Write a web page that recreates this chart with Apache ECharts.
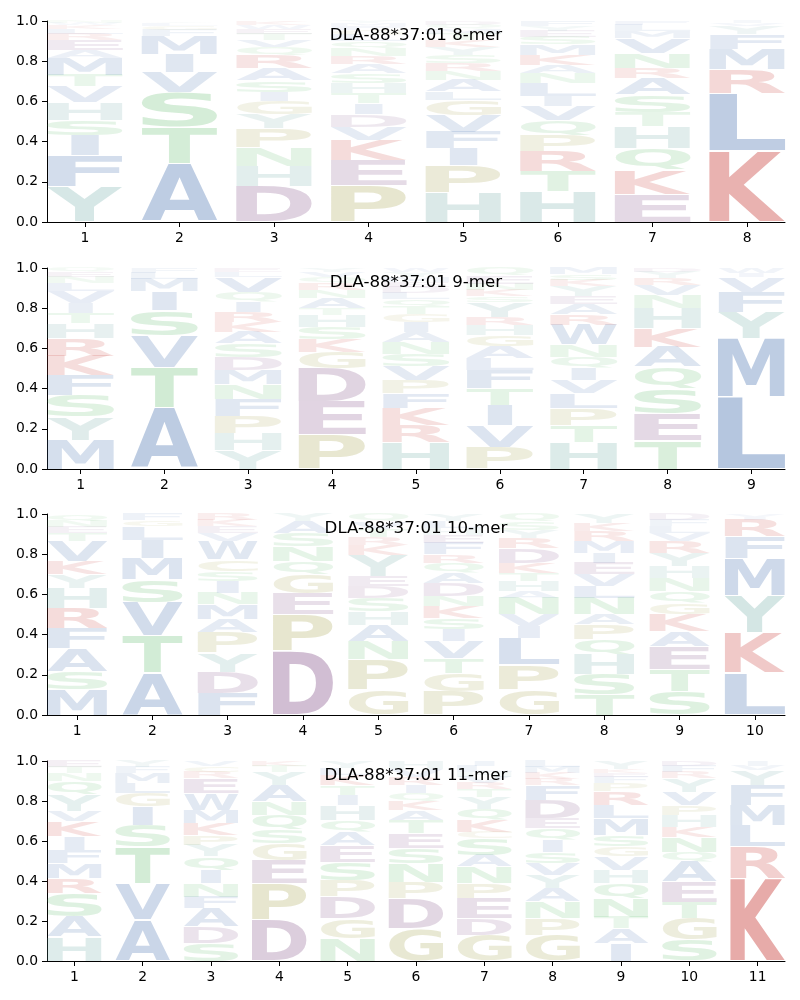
<!DOCTYPE html>
<html><head><meta charset="utf-8">
<script src="https://cdn.jsdelivr.net/npm/echarts@6/dist/echarts.min.js"></script>
<style>html,body{margin:0;padding:0;background:#fff}#c{width:800px;height:1000px}</style>
</head><body><div id="c"></div>
<script>
// ---------------- DATA ----------------
const titles = ["DLA-88*37:01 8-mer", "DLA-88*37:01 9-mer", "DLA-88*37:01 10-mer", "DLA-88*37:01 11-mer"];
const yTicks = [0, 0.2, 0.4, 0.6, 0.8, 1.0];

// letters listed bottom -> top for each position, with matching heights
const mer8Letters = ["YFISHVTMAERLKWN", "ATSVIMFGLY", "DHNPYGISARQVTEWK", "PEKVDITHSARNQLGFMY",
  "HPIFVGLANRSYKTMQD", "HTRPQVILNAKMSEYF", "EKQHTSARNVMLF", "KLRMFYVI"];
const mer8Heights = [
  [0.176,0.154,0.10,0.078,0.088,0.078,0.058,0.083,0.04,0.05,0.03,0.025,0.02,0.01,0.01],
  [0.292,0.18,0.171,0.1,0.09,0.093,0.03,0.02,0.015,0.009],
  [0.179,0.1,0.09,0.096,0.07,0.066,0.046,0.058,0.058,0.066,0.04,0.035,0.03,0.025,0.02,0.021],
  [0.184,0.124,0.1,0.066,0.061,0.055,0.05,0.05,0.05,0.045,0.04,0.04,0.035,0.03,0.025,0.02,0.015,0.01],
  [0.146,0.134,0.086,0.083,0.083,0.075,0.041,0.058,0.045,0.04,0.04,0.04,0.035,0.03,0.025,0.02,0.019],
  [0.151,0.1,0.1,0.08,0.073,0.071,0.05,0.066,0.05,0.041,0.05,0.05,0.04,0.03,0.025,0.023],
  [0.138,0.121,0.108,0.108,0.071,0.086,0.083,0.05,0.075,0.075,0.035,0.03,0.02],
  [0.355,0.285,0.118,0.1,0.075,0.04,0.015,0.012]
];

const mer9Letters = ["MYSFKRHTIVLNEQ", "ATVSIMLF", "YHPFNMDSAKRIQVLE", "PEDGKSHTANRQVY",
  "HRKFPVSNAIGTQLDEMYW", "PVITFLAGHRYSKNEQ", "HTPLVIQNWRAEYKSM", "TESQAKHNVRYD", "LMYFVIW"];
const mer9Heights = [
  [0.143,0.116,0.108,0.1,0.096,0.086,0.075,0.05,0.05,0.06,0.04,0.03,0.025,0.021],
  [0.303,0.204,0.158,0.124,0.095,0.063,0.03,0.023],
  [0.093,0.083,0.088,0.083,0.073,0.071,0.066,0.066,0.058,0.05,0.05,0.053,0.046,0.075,0.025,0.02],
  [0.171,0.163,0.166,0.083,0.063,0.061,0.058,0.033,0.05,0.04,0.035,0.03,0.025,0.022],
  [0.134,0.083,0.083,0.075,0.066,0.07,0.06,0.06,0.05,0.05,0.04,0.04,0.035,0.03,0.03,0.025,0.024,0.025,0.02],
  [0.11,0.108,0.1,0.083,0.091,0.058,0.058,0.058,0.05,0.041,0.075,0.03,0.03,0.03,0.04,0.038],
  [0.134,0.083,0.083,0.075,0.066,0.061,0.055,0.061,0.1,0.05,0.05,0.04,0.05,0.03,0.03,0.032],
  [0.143,0.133,0.124,0.108,0.1,0.091,0.1,0.066,0.05,0.035,0.03,0.02],
  [0.358,0.29,0.133,0.1,0.075,0.02,0.024]
];

const mer10Letters = ["MSAFRHYKVTENQ", "ATVSMILGF", "FDYPAMNISCWVEKR", "DPEGQNSAY", "GPNAHSDEYKRTVQ",
  "PGTVISKNDAQRFEHLY", "GPLIVNAHTKDRYSQ", "TSHQPANLVEIMRKY", "STEAKGQNHYRVLFD", "LKYMFRIV"];
const mer10Heights = [
  [0.126,0.091,0.116,0.1,0.1,0.1,0.066,0.066,0.1,0.041,0.03,0.03,0.034],
  [0.209,0.187,0.164,0.113,0.108,0.091,0.066,0.03,0.032],
  [0.11,0.104,0.095,0.1,0.066,0.075,0.058,0.058,0.05,0.058,0.091,0.04,0.035,0.03,0.03],
  [0.317,0.182,0.103,0.096,0.066,0.075,0.066,0.058,0.037],
  [0.126,0.149,0.091,0.083,0.066,0.066,0.058,0.05,0.108,0.05,0.04,0.04,0.035,0.038],
  [0.118,0.091,0.075,0.083,0.058,0.058,0.058,0.05,0.066,0.05,0.05,0.041,0.058,0.04,0.034,0.035,0.035],
  [0.126,0.124,0.133,0.058,0.058,0.083,0.033,0.05,0.041,0.05,0.075,0.05,0.04,0.04,0.039],
  [0.1,0.1,0.1,0.075,0.075,0.05,0.083,0.058,0.058,0.058,0.05,0.058,0.05,0.04,0.045],
  [0.118,0.108,0.116,0.075,0.083,0.058,0.058,0.066,0.058,0.066,0.058,0.04,0.035,0.03,0.031],
  [0.209,0.199,0.187,0.186,0.108,0.083,0.014,0.014]
];

const mer11Letters = ["HASRMFIKVYQNTE", "AVTSIGLMFY", "SDAFNIQYPKMWERCV", "DPEGSQNAYTK", "NGDPSEAQHITKLY",
  "GDPNSETAKQIRVH", "GDEPNASCKQYTRVHLI", "GPNAYVSIQEDFRKML", "IATNQHVGSMLRPFEKY", "SGTEAQNKHPVYRFD", "KRLMFYVI"];
const mer11Heights = [
  [0.122,0.1,0.117,0.075,0.075,0.067,0.067,0.075,0.05,0.083,0.067,0.04,0.03,0.032],
  [0.205,0.183,0.183,0.108,0.092,0.067,0.05,0.05,0.03,0.032],
  [0.088,0.083,0.092,0.058,0.067,0.067,0.067,0.058,0.05,0.058,0.067,0.083,0.075,0.03,0.03,0.026],
  [0.205,0.183,0.117,0.083,0.067,0.075,0.067,0.083,0.067,0.03,0.023],
  [0.113,0.1,0.108,0.083,0.092,0.083,0.067,0.058,0.075,0.05,0.05,0.05,0.035,0.036],
  [0.163,0.15,0.083,0.092,0.075,0.075,0.067,0.05,0.045,0.04,0.04,0.04,0.04,0.04],
  [0.13,0.083,0.1,0.075,0.083,0.058,0.083,0.033,0.058,0.058,0.058,0.04,0.03,0.03,0.025,0.03,0.026],
  [0.13,0.083,0.083,0.067,0.067,0.058,0.058,0.058,0.058,0.05,0.092,0.075,0.03,0.03,0.03,0.031],
  [0.088,0.075,0.058,0.092,0.075,0.067,0.067,0.05,0.058,0.083,0.067,0.067,0.042,0.03,0.02,0.021,0.04],
  [0.105,0.108,0.083,0.1,0.1,0.05,0.075,0.05,0.058,0.05,0.067,0.067,0.03,0.03,0.027],
  [0.413,0.158,0.108,0.1,0.1,0.075,0.023,0.023]
];

// ---------------- STYLE ----------------
const baseColors = {
  red: [200, 60, 55], blue: [69, 111, 174], teal: [95, 160, 155],
  mauve: [130, 80, 135], olive: [162, 159, 73], green: [88, 184, 100]
};
const residueGroup = {
  K: 'red', R: 'red', H: 'teal', Y: 'teal',
  A: 'blue', V: 'blue', L: 'blue', I: 'blue', M: 'blue', F: 'blue', W: 'blue',
  D: 'mauve', E: 'mauve', P: 'olive', G: 'olive', C: 'olive',
  S: 'green', T: 'green', N: 'green', Q: 'green'
};
function letterColor(ch, h) {
  const c = baseColors[residueGroup[ch] || 'blue'];
  const a = Math.min(1, 0.75 * Math.pow(Math.max(h, 0), 0.62));
  return 'rgba(' + c[0] + ',' + c[1] + ',' + c[2] + ',' + a.toFixed(3) + ')';
}

const FONT = 'bold 100px "DejaVu Sans"';
const mctx = document.createElement('canvas').getContext('2d');
mctx.font = FONT; mctx.textBaseline = 'middle'; mctx.textAlign = 'left';
const metricCache = {};
function metrics(ch) {
  if (!metricCache[ch]) {
    const m = mctx.measureText(ch);
    metricCache[ch] = {l: m.actualBoundingBoxLeft, r: m.actualBoundingBoxRight,
                       a: m.actualBoundingBoxAscent, d: m.actualBoundingBoxDescent};
  }
  return metricCache[ch];
}

const panels = [
  {letters: mer8Letters, heights: mer8Heights},
  {letters: mer9Letters, heights: mer9Heights},
  {letters: mer10Letters, heights: mer10Heights},
  {letters: mer11Letters, heights: mer11Heights}
];
const gridTops = [21, 268, 514, 761];
const gridHeights = [201, 201, 201, 200];

const grids = [], xAxes = [], yAxes = [], series = [], titleOpts = [];
const axisFont = {fontFamily: 'DejaVu Sans', fontSize: 13.9, color: '#000'};

panels.forEach((p, gi) => {
  const n = p.letters.length;
  grids.push({left: 47, width: 738, top: gridTops[gi], height: gridHeights[gi]});
  const ticks = [];
  for (let i = 1; i <= n; i++) ticks.push(i);
  xAxes.push({
    type: 'value', gridIndex: gi, min: 0.6, max: n + 0.4,
    axisLine: {show: true, onZero: false, lineStyle: {color: '#000', width: 1}},
    axisTick: {show: true, length: 5, lineStyle: {color: '#000', width: 1}, customValues: ticks},
    axisLabel: Object.assign({margin: 9, customValues: ticks, formatter: v => String(v)}, axisFont),
    splitLine: {show: false}
  });
  yAxes.push({
    type: 'value', gridIndex: gi, min: 0, max: 1, interval: 0.2,
    axisLine: {show: true, lineStyle: {color: '#000', width: 1}},
    axisTick: {show: true, length: 5, lineStyle: {color: '#000', width: 1}},
    axisLabel: Object.assign({margin: 9, formatter: v => v.toFixed(1)}, axisFont),
    splitLine: {show: false}
  });
  titleOpts.push({
    text: titles[gi], left: 416, top: gridTops[gi] + 6, textAlign: 'center', padding: 0,
    textStyle: {fontFamily: 'DejaVu Sans', fontSize: 16.67, fontWeight: 'normal', color: '#000'}
  });
  const items = [], meta = [];
  p.letters.forEach((str, pi) => {
    let y = 0;
    for (let k = 0; k < str.length; k++) {
      const h = p.heights[pi][k];
      items.push([pi + 1, y, y + h]);
      meta.push({ch: str[k], h: h});
      y += h;
    }
  });
  series.push({
    type: 'custom', xAxisIndex: gi, yAxisIndex: gi, clip: false, silent: true,
    data: items,
    renderItem: function (params, api) {
      const info = meta[params.dataIndex];
      const x = api.value(0), y0 = api.value(1), y1 = api.value(2);
      const pA = api.coord([x - 0.4, y1]);
      const pB = api.coord([x + 0.4, y0]);
      const rw = pB[0] - pA[0];
      const rhFull = pB[1] - pA[1];
      const pad = rhFull * 0.015;
      const rh = rhFull - 2 * pad;
      if (rh <= 0.05) return null;
      const m = metrics(info.ch), mE = metrics('E');
      const inkW = m.l + m.r, inkH = m.a + m.d;
      const sx = rw / Math.max(inkW, mE.l + mE.r);
      const sy = rh / inkH;
      const gx = pA[0] + (rw - inkW * sx) / 2;
      const gy = pA[1] + pad;
      return {
        type: 'text', silent: true,
        x: gx + m.l * sx, y: gy + m.a * sy, scaleX: sx, scaleY: sy,
        style: {text: info.ch, x: 0, y: 0, font: FONT, fill: letterColor(info.ch, info.h),
                align: 'left', verticalAlign: 'middle'}
      };
    }
  });
});

const chart = echarts.init(document.getElementById('c'), null, {renderer: 'canvas'});
chart.setOption({
  backgroundColor: '#fff', animation: false,
  title: titleOpts, grid: grids, xAxis: xAxes, yAxis: yAxes, series: series
});
</script></body></html>
